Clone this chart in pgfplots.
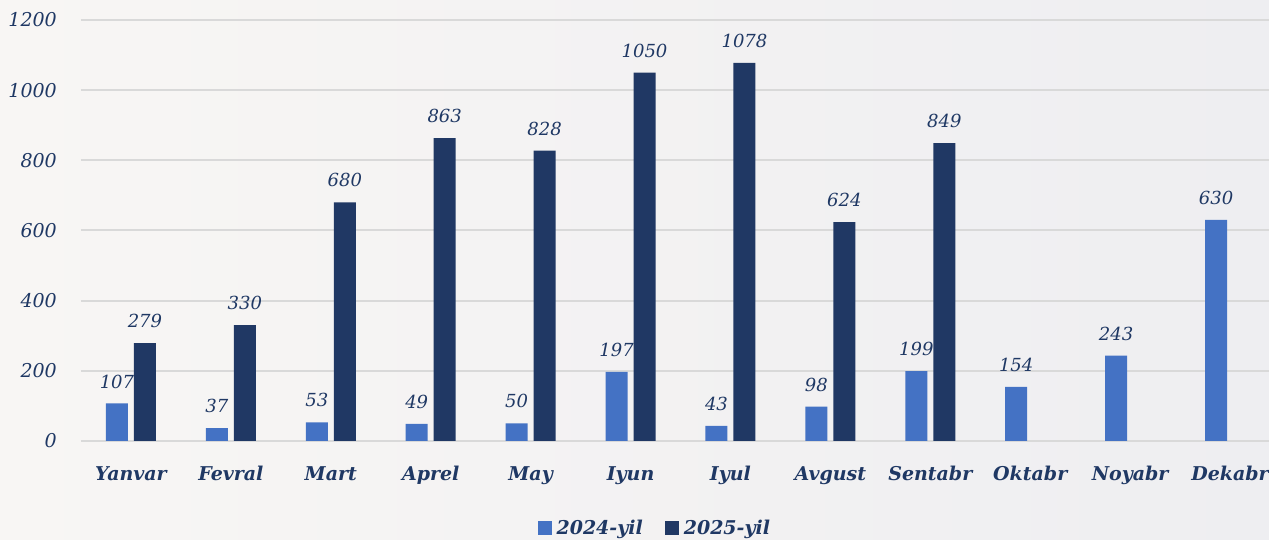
\documentclass[border=0pt]{standalone}
\usepackage{fontspec}
\setmainfont{DejaVu Serif}
\usepackage{pgfplots}
\pgfplotsset{compat=1.18}
\definecolor{c24}{HTML}{4472C4}
\definecolor{c25}{HTML}{203864}
\definecolor{txt}{HTML}{1F3864}
\definecolor{gridc}{HTML}{D9D9D9}
\definecolor{bgl}{HTML}{F8F6F4}
\definecolor{bgr}{HTML}{EEEEF1}
\begin{document}
\begin{tikzpicture}[x=1pt,y=1pt]
\path[use as bounding box, left color=bgl, right color=bgr] (0,0) rectangle (1269,540);
\begin{axis}[
  at={(81pt,99pt)}, anchor=south west,
  scale only axis, width=1188pt, height=421pt,
  xmin=-0.5, xmax=11.39, ymin=0, ymax=1200,
  ytick={0,200,...,1200},
  xtick={0,...,11},
  xticklabels={Yanvar,Fevral,Mart,Aprel,May,Iyun,Iyul,Avgust,Sentabr,Oktabr,Noyabr,Dekabr},
  ymajorgrids, grid style={gridc, line width=2pt},
  axis line style={draw=none}, major tick length=0pt,
  /pgf/number format/assume math mode=true,
  /pgf/number format/1000 sep={},
  yticklabel style={font=\itshape\fontsize{19}{22}\selectfont, text=txt, inner sep=0pt, xshift=-24pt},
  xticklabel style={font=\bfseries\itshape\fontsize{19}{22}\selectfont, text=txt, inner sep=0pt, yshift=-25pt},
  ybar, bar width=22pt,
  nodes near coords,
  nodes near coords style={font=\itshape\fontsize{18}{22}\selectfont, text=txt, inner sep=0pt, yshift=15pt, /pgf/number format/assume math mode=true},
  clip=false,
  legend style={at={(0.483,-0.207)}, anchor=center, draw=none, fill=none,
    font=\bfseries\itshape\fontsize{19}{22}\selectfont, text=txt,
    /tikz/every even column/.append style={column sep=20pt}},
  legend columns=2,
  legend image code/.code={\fill[#1] (0pt,-7pt) rectangle (14pt,7pt); \path (17pt,0pt);},
]
\addplot[fill=c24, draw=none, bar shift=-14pt] coordinates {
(0,107) (1,37) (2,53) (3,49) (4,50) (5,197) (6,43) (7,98) (8,199) (9,154) (10,243) (11,630)};
\addplot[fill=c25, draw=none, bar shift=14pt] coordinates {
(0,279) (1,330) (2,680) (3,863) (4,828) (5,1050) (6,1078) (7,624) (8,849)};
\legend{2024-yil,2025-yil}
\end{axis}
\end{tikzpicture}
\end{document}
